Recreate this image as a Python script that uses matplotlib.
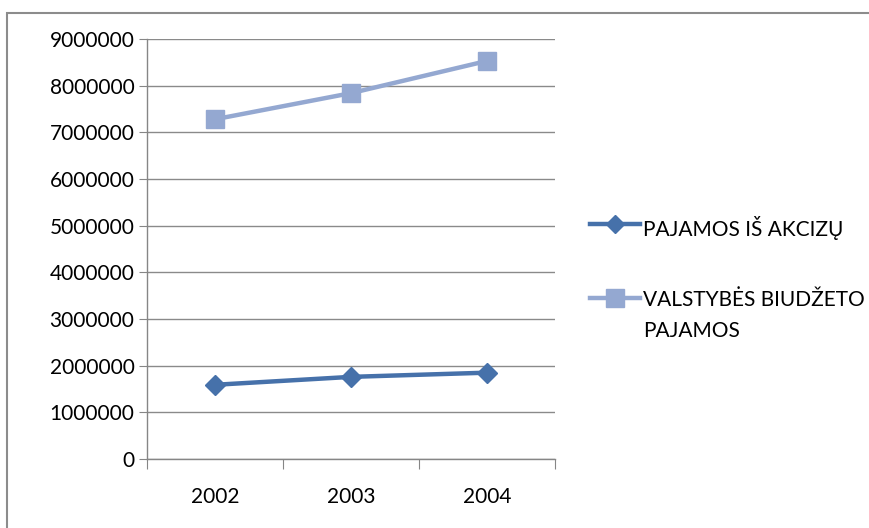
import matplotlib
import matplotlib.pyplot as plt
from matplotlib.patches import Rectangle

years = ['2002', '2003', '2004']
akcizai = [1590000, 1760000, 1850000]
biudzetas = [7280000, 7840000, 8530000]
series_names = ['PAJAMOS IŠ AKCIZŲ', 'VALSTYBĖS BIUDŽETO\nPAJAMOS']
yticks = list(range(0, 9000001, 1000000))

plt.rcParams['font.family'] = ['Lato', 'DejaVu Sans']
fontsize = 15

fig = plt.figure(figsize=(8.7, 5.28), dpi=100)
# outer chart frame (cut off on the right and bottom like the screenshot)
fig.patches.append(Rectangle((7/870, -0.1), 1.2, 1.1 - 13/528, transform=fig.transFigure,
                             fill=False, edgecolor='#8c8c8c', linewidth=1.5))

ax = fig.add_axes([147/870, 1 - 459/528, 408/870, 420/528])
x = range(len(years))
ax.plot(x, akcizai, color='#4671AA', linewidth=3.2, marker='D', markersize=10.5,
        label=series_names[0])
ax.plot(x, biudzetas, color='#94A8D1', linewidth=3.2, marker='s', markersize=13,
        label=series_names[1])

ax.set_xlim(-0.5, 2.5)
ax.set_ylim(0, 9000000)
ax.set_yticks(yticks, [str(v) for v in yticks], fontsize=fontsize)
ax.set_xticks([-0.5, 0.5, 1.5, 2.5], ['', '', '', ''])
ax.set_xticks(list(x), years, minor=True, fontsize=fontsize)
ax.tick_params(axis='x', which='major', length=7, color='#868686', direction='out')
ax.tick_params(axis='x', which='minor', length=0, pad=20)
ax.tick_params(axis='y', length=6, color='#868686', direction='out', pad=3)
ax.grid(axis='y', color='#8a8a8a', linewidth=1)
ax.set_axisbelow(True)
for s in ['top', 'right']:
    ax.spines[s].set_visible(False)
for s in ['left', 'bottom']:
    ax.spines[s].set_color('#868686')
    ax.spines[s].set_linewidth(1)

leg = ax.legend(loc='upper left', bbox_to_anchor=(582/870, 1 - 208/528), bbox_transform=fig.transFigure,
                frameon=False, fontsize=fontsize, handlelength=2.4, handletextpad=0.15,
                labelspacing=2.4, borderaxespad=0)
for t in leg.get_texts():
    t.set_linespacing(1.65)
leg.legend_handles[0].set_markersize(9)
# keep the marker level with the first text line
for col in leg._legend_handle_box.get_children():
    for row in col.get_children():
        row.align = 'top'

fig.savefig('out.png', dpi=100)
